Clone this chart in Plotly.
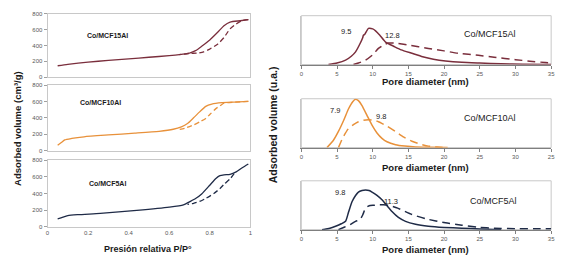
import plotly.graph_objects as go

# ---------------- data ----------------
# Isotherms (relative pressure vs adsorbed volume cm3/g)
p_ads15 = [0.05, 0.1, 0.2, 0.3, 0.4, 0.5, 0.6, 0.65, 0.7, 0.73, 0.76, 0.8, 0.84, 0.87, 0.9, 0.95, 0.99]
v_ads15 = [145, 163, 190, 212, 232, 252, 272, 285, 305, 335, 390, 470, 570, 650, 695, 712, 725]
p_des15 = [0.99, 0.96, 0.93, 0.9, 0.87, 0.84, 0.8, 0.77, 0.74, 0.7, 0.65]
v_des15 = [725, 715, 670, 610, 500, 420, 355, 320, 305, 300, 285]

p_ads10 = [0.05, 0.07, 0.085, 0.12, 0.18, 0.3, 0.43, 0.55, 0.62, 0.66, 0.69, 0.72, 0.75, 0.78, 0.81, 0.86, 0.92, 0.99]
v_ads10 = [64, 100, 130, 148, 168, 190, 212, 235, 260, 290, 330, 400, 472, 540, 568, 585, 592, 600]
p_des10 = [0.99, 0.92, 0.87, 0.85, 0.83, 0.8, 0.78, 0.75, 0.72, 0.68, 0.64]
v_des10 = [600, 590, 578, 545, 512, 440, 392, 350, 312, 275, 250]

p_ads5 = [0.05, 0.07, 0.1, 0.15, 0.26, 0.44, 0.6, 0.67, 0.7, 0.73, 0.76, 0.8, 0.83, 0.85, 0.87, 0.9, 0.93, 0.96, 0.99]
v_ads5 = [95, 110, 133, 145, 160, 196, 235, 262, 300, 340, 395, 500, 580, 615, 625, 630, 660, 710, 755]
p_des5 = [0.92, 0.9, 0.87, 0.85, 0.82, 0.78, 0.75, 0.72, 0.69]
v_des5 = [640, 576, 510, 459, 400, 341, 305, 282, 270]

# Pore size distributions (pore diameter nm vs adsorbed volume a.u.)
d_s15 = [3.8, 5, 6.2, 7, 7.6, 8.2, 8.6, 8.7, 8.9, 9.4, 10, 10.4, 11, 11.8, 13, 14, 15.5, 17, 18.5, 20.2, 22.5, 25, 28, 31, 35]
y_s15 = [0, 0.03, 0.09, 0.17, 0.26, 0.42, 0.55, 0.6, 0.62, 0.74, 0.73, 0.69, 0.6, 0.46, 0.37, 0.3, 0.23, 0.16, 0.11, 0.073, 0.045, 0.03, 0.015, 0.008, 0]
d_d15 = [7.3, 8, 9, 10, 10.8, 11.5, 12.2, 13, 13.6, 15, 17.8, 20, 22, 24.8, 27, 30, 32, 34.2, 35]
y_d15 = [0, 0.03, 0.09, 0.2, 0.33, 0.4, 0.44, 0.44, 0.43, 0.4, 0.33, 0.28, 0.23, 0.19, 0.15, 0.1, 0.07, 0.04, 0.03]

d_s10 = [3.6, 4.5, 5.2, 6, 6.6, 7.2, 7.6, 8, 8.5, 9.2, 9.9, 10.6, 11.3, 12, 13.2, 14.5, 16, 18, 20.5]
y_s10 = [0, 0.15, 0.33, 0.58, 0.79, 0.94, 0.99, 0.96, 0.86, 0.66, 0.46, 0.3, 0.19, 0.12, 0.06, 0.03, 0.01, 0.005, 0]
d_d10 = [5.2, 5.8, 6.6, 7.3, 8, 8.7, 9.4, 10.1, 10.8, 12, 13.2, 14.3, 15.5, 16.7, 17.8, 19, 20.5]
y_d10 = [0, 0.2, 0.39, 0.47, 0.53, 0.56, 0.57, 0.56, 0.53, 0.44, 0.33, 0.22, 0.13, 0.07, 0.03, 0.01, 0]

d_s5 = [2.9, 4, 4.8, 5.6, 6.2, 6.6, 7.1, 7.6, 8, 8.5, 9, 9.5, 9.9, 10.6, 11.3, 12, 12.7, 13.6, 14.6, 16, 17.8, 20, 22.5, 25, 28]
y_s5 = [0, 0.03, 0.07, 0.12, 0.17, 0.35, 0.57, 0.7, 0.77, 0.8, 0.81, 0.8, 0.77, 0.7, 0.61, 0.49, 0.37, 0.25, 0.17, 0.11, 0.07, 0.045, 0.03, 0.015, 0]
d_d5 = [5.2, 6, 6.8, 7.6, 8.2, 8.6, 9, 9.5, 10.2, 10.8, 11.5, 12.2, 13.5, 15.5, 17.5, 20.2, 22.5, 24.8, 27, 30, 32.5, 35]
y_d5 = [0, 0.05, 0.1, 0.17, 0.2, 0.3, 0.44, 0.49, 0.5, 0.51, 0.51, 0.5, 0.44, 0.31, 0.22, 0.14, 0.09, 0.05, 0.03, 0.02, 0.02, 0.02]

iso_yticks = [0, 200, 400, 600, 800]
iso_xticks = [0, 0.2, 0.4, 0.6, 0.8, 1]
iso_xticklabels = ["0", "0.2", "0.4", "0.6", "0.8", "1"]
psd_xticks = [0, 5, 10, 15, 20, 25, 30, 35]
psd_xticklabels = ["0", "5", "10", "15", "20", "25", "30", "35"]
psd_xticklabels_mid = ["0", "5", "10", "15", "20", "25", "30", "25"]

samples = ["Co/MCF15Al", "Co/MCF10Al", "Co/MCF5Al"]
peak_labels = [("9.5", "12.8"), ("7.9", "9.8"), ("9.8", "11.3")]

# ---------------- styling ----------------
W, H = 570, 260
C15 = "#7A2E3C"
C10 = "#E8913A"
C5 = "#1F2B47"
colors = [C15, C10, C5]
TICKF = dict(family="Liberation Sans", size=6, color="#595959")
BOX = "#C8C8C8"

def px(x):
    return x / W

def py(y):
    return 1 - y / H

left_x = (46, 251)
left_y = [(11, 76), (84, 151), (161, 229)]
right_x = (302.5, 555)
right_y = [(13, 63), (98, 148), (182, 232)]

fig = go.Figure()
lay = {}

iso = [(p_ads15, v_ads15, p_des15, v_des15), (p_ads10, v_ads10, p_des10, v_des10), (p_ads5, v_ads5, p_des5, v_des5)]
psd = [(d_s15, y_s15, d_d15, y_d15), (d_s10, y_s10, d_d10, y_d10), (d_s5, y_s5, d_d5, y_d5)]

for i in range(3):
    la = 2 * i + 1
    ra = 2 * i + 2
    xa_l = "x" if la == 1 else f"x{la}"
    ya_l = "y" if la == 1 else f"y{la}"
    xa_r = f"x{ra}"
    ya_r = f"y{ra}"
    pa, va, pd_, vd = iso[i]
    fig.add_trace(go.Scatter(x=pa, y=va, mode="lines", line=dict(color=colors[i], width=1.3, shape="spline", smoothing=0.6),
                             xaxis=xa_l, yaxis=ya_l, showlegend=False))
    fig.add_trace(go.Scatter(x=pd_, y=vd, mode="lines", line=dict(color=colors[i], width=1.3, dash="5px,3px", shape="spline", smoothing=0.6),
                             xaxis=xa_l, yaxis=ya_l, showlegend=False))
    ds, ys, dd, yd = psd[i]
    fig.add_trace(go.Scatter(x=ds, y=ys, mode="lines", line=dict(color=colors[i], width=1.5, shape="spline", smoothing=0.5),
                             xaxis=xa_r, yaxis=ya_r, showlegend=False))
    fig.add_trace(go.Scatter(x=dd, y=yd, mode="lines", line=dict(color=colors[i], width=1.5, dash="8px,5px", shape="spline", smoothing=0.5),
                             xaxis=xa_r, yaxis=ya_r, showlegend=False))

    kx_l = "xaxis" if la == 1 else f"xaxis{la}"
    ky_l = "yaxis" if la == 1 else f"yaxis{la}"
    lay[kx_l] = dict(domain=[px(left_x[0]), px(left_x[1])], anchor=ya_l, range=[0, 1],
                     tickvals=iso_xticks, ticktext=iso_xticklabels, showticklabels=(i == 2),
                     ticks="", tickfont=TICKF, showline=True, linecolor=BOX, linewidth=1,
                     mirror=True, showgrid=False, zeroline=False, fixedrange=True)
    lay[ky_l] = dict(domain=[py(left_y[i][1]), py(left_y[i][0])], anchor=xa_l, range=[0, 800],
                     tickvals=iso_yticks, ticks="outside", ticklen=3, tickcolor="#A0A0A0",
                     tickfont=TICKF, showline=True, linecolor=BOX, linewidth=1, mirror=True,
                     showgrid=False, zeroline=False, fixedrange=True)
    lay[f"xaxis{ra}"] = dict(domain=[px(right_x[0]), px(right_x[1])], anchor=ya_r, range=[0, 35],
                             tickvals=psd_xticks,
                             ticktext=(psd_xticklabels_mid if i == 1 else psd_xticklabels),
                             ticks="outside", ticklen=3, tickcolor="#808080", tickfont=TICKF,
                             showline=True, linecolor="#7F7F7F", linewidth=1, showgrid=False,
                             zeroline=False, fixedrange=True)
    lay[f"yaxis{ra}"] = dict(domain=[py(right_y[i][1]), py(right_y[i][0])], anchor=xa_r, range=[0, 1.0],
                             showticklabels=False, ticks="", showline=True, linecolor=BOX,
                             linewidth=1, showgrid=False, zeroline=False, fixedrange=True)

shapes = []
for i in range(3):
    ra = 2 * i + 2
    shapes.append(dict(type="rect", xref=f"x{ra} domain", yref=f"y{ra} domain", x0=0, x1=1, y0=0, y1=1,
                       line=dict(color=BOX, width=1), layer="below"))

ann = []
def add_text(t, x, y, size, bold=True, color="#1A1A1A", angle=0, xanchor="center"):
    ann.append(dict(text=(f"<b>{t}</b>" if bold else t), x=px(x), y=py(y), xref="paper", yref="paper",
                    showarrow=False, font=dict(family="Liberation Sans", size=size, color=color),
                    textangle=angle, xanchor=xanchor, yanchor="middle"))

left_lab = [(107, 33), (100, 102), (107, 185)]
right_lab = [(493, 32), (493, 118), (497, 203)]
for i in range(3):
    add_text(samples[i], left_lab[i][0], left_lab[i][1], 7)
    add_text(samples[i], right_lab[i][0], right_lab[i][1], 9, bold=False)

peak_pos = [((348, 29), (395, 33)), ((337, 110), (383, 116)), ((342, 194), (393, 203))]
for i in range(3):
    for j in range(2):
        add_text(peak_labels[i][j], peak_pos[i][j][0], peak_pos[i][j][1], 7.5, bold=False)

add_text("Presión relativa P/P°", 148, 252, 9)
for yy in (80, 168, 252):
    add_text("Pore diameter (nm)", 428, yy, 9.5)
add_text("Adsorbed volume (cm³/g)", 15, 128, 9.5, angle=-90)
add_text("Adsorbed volume (u.a.)", 274, 125, 10.5, angle=-90)

fig.update_layout(width=W, height=H, margin=dict(l=0, r=0, t=0, b=0),
                  paper_bgcolor="white", plot_bgcolor="white", showlegend=False,
                  shapes=shapes, annotations=ann, **lay)

fig.write_html("out.html", config={"displayModeBar": False},
               post_script="document.body.style.margin='0';")
